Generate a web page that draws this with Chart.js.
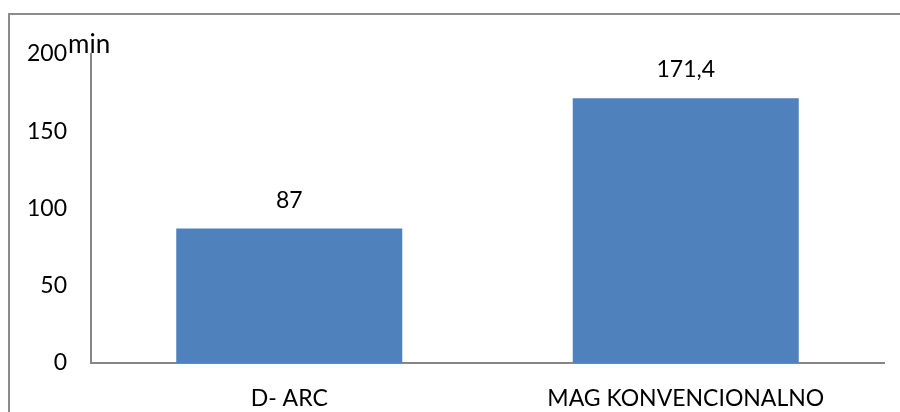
<!DOCTYPE html>
<html>
<head>
<meta charset="utf-8">
<script src="https://cdn.jsdelivr.net/npm/chart.js@4"></script>
<style>
  html, body { margin: 0; padding: 0; background: #fff; overflow: hidden; }
  canvas { display: block; }
</style>
</head>
<body>
<canvas id="grafico" width="900" height="412"></canvas>
<script>
// Datos del gráfico
const kategorije = ['D- ARC', 'MAG KONVENCIONALNO'];
const vrijednosti = [87, 171.4];
const oznake = ['87', '171,4'];
const yTicks = [0, 50, 100, 150, 200];
const jedinica = 'min';

const boje = {
  stupac: '#4F81BD',
  os: '#868686',
  okvir: '#8C8C8C',
  tekst: '#000000'
};
const font = 'Lato, "Open Sans", sans-serif';

// okvir oko grafikona + oznaka jedinice
const okvirPlugin = {
  id: 'okvir',
  beforeDraw(chart) {
    const c = chart.ctx;
    c.save();
    c.fillStyle = boje.okvir;
    c.fillRect(8, 13, 2, chart.height);
    c.fillRect(8, 13, chart.width, 2);
    c.restore();
  },
  afterDraw(chart) {
    const c = chart.ctx;
    const y = chart.scales.y;
    c.save();
    c.fillStyle = boje.tekst;
    c.textBaseline = 'alphabetic';
    c.textAlign = 'left';
    c.font = '26px ' + font;
    c.fillText(jedinica, y.right - 23, chart.chartArea.top - 1);
    // vrijednosti iznad stupaca
    c.font = '23px ' + font;
    c.textAlign = 'center';
    chart.getDatasetMeta(0).data.forEach((bar, i) => {
      c.fillText(oznake[i], bar.x, bar.y - 21);
    });
    c.restore();
  }
};

new Chart(document.getElementById('grafico'), {
  type: 'bar',
  data: {
    labels: kategorije,
    datasets: [{
      data: vrijednosti,
      backgroundColor: boje.stupac,
      borderWidth: 0,
      categoryPercentage: 1,
      barPercentage: 0.57
    }]
  },
  options: {
    responsive: false,
    animation: false,
    layout: { padding: { top: 54, right: 16, left: 0, bottom: 0 } },
    plugins: {
      legend: { display: false },
      tooltip: { enabled: false }
    },
    scales: {
      x: {
        grid: { display: false, drawTicks: false },
        border: { display: true, color: boje.os, width: 2 },
        ticks: { color: boje.tekst, font: { family: font, size: 23 }, padding: 22, maxRotation: 0 },
        afterFit: s => { s.height = 49; }
      },
      y: {
        min: 0,
        max: 200,
        afterBuildTicks: s => { s.ticks = yTicks.map(v => ({ value: v })); },
        grid: { display: false, drawTicks: false },
        border: { display: true, color: boje.os, width: 2 },
        ticks: { color: boje.tekst, font: { family: font, size: 23 }, padding: 24 },
        afterFit: s => { s.width = 91; }
      }
    }
  },
  plugins: [okvirPlugin]
});
</script>
</body>
</html>
